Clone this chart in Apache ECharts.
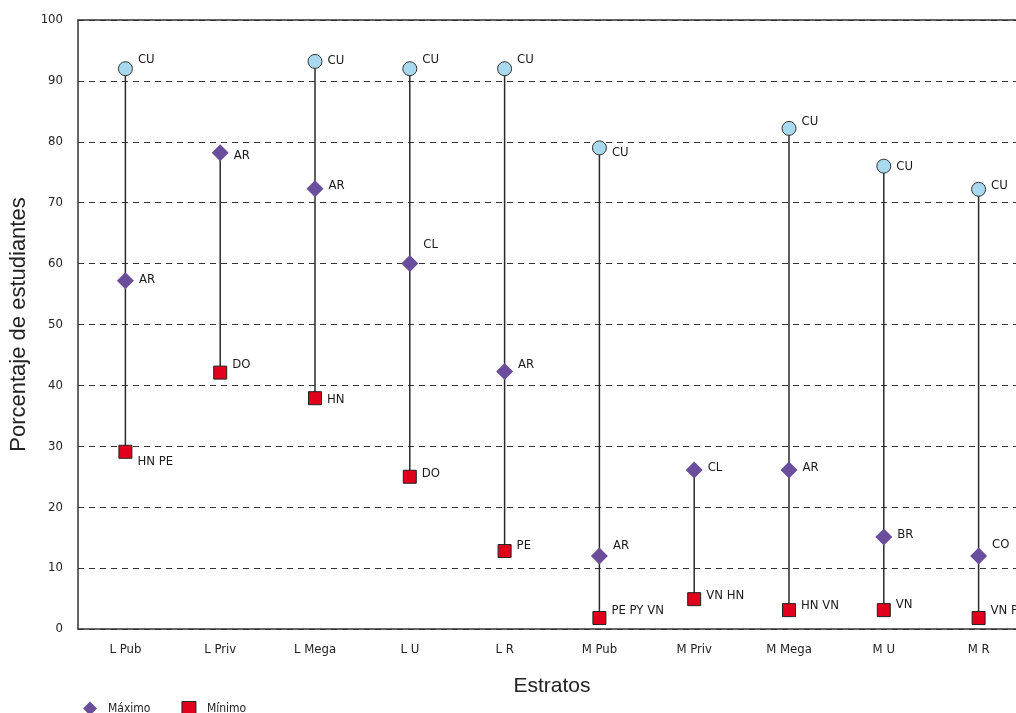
<!DOCTYPE html>
<html>
<head>
<meta charset="utf-8">
<script src="https://cdn.jsdelivr.net/npm/echarts@6/dist/echarts.min.js"></script>
<style>html,body{margin:0;padding:0;background:#fff}#c{width:1016px;height:713px}</style>
</head>
<body>
<div id="c"></div>
<script>
// ---- data ----
const categories = ['L Pub','L Priv','L Mega','L U','L R','M Pub','M Priv','M Mega','M U','M R'];
const cuValues   = [92, null, 93.2, 92, 92, 79, null, 82.2, 76, 72.2];
const cuLabels   = ['CU','', 'CU','CU','CU','CU','', 'CU','CU','CU'];
const maxValues  = [57.2, 78.2, 72.3, 60, 42.3, 12, 26.1, 26.1, 15.1, 12];
const maxLabels  = ['AR','AR','AR','CL','AR','AR','CL','AR','BR','CO'];
const minValues  = [29.1, 42.1, 37.9, 25, 12.8, 1.8, 4.9, 3.1, 3.1, 1.8];
const minLabels  = ['HN PE','DO','HN','DO','PE','PE PY VN','VN HN','HN VN','VN','VN PE'];
const yTicks     = [0,10,20,30,40,50,60,70,80,90,100];

// ---- style (label vertical shifts, px) ----
const cuDy  = [-9,0,-1,-9,-9,5,0,-7,0,-4];
const maxDy = [-1,3,-3,-19,-7,-10,-2,-2,-2,-11];
const minDy = [10,-8,1,-3,-5,-7,-4,-4,-5,-7];

const narrow = "'Liberation Sans Narrow','DejaVu Sans Condensed','Roboto Condensed',sans-serif";
const chart = echarts.init(document.getElementById('c'));

function pts(vals, labels, dys) {
  return vals.map((v, i) => v == null ? '-' : {
    value: v,
    name: labels[i],
    label: { offset: [0, dys[i]] }
  });
}

const rangeData = categories.map((c, i) => {
  const vs = [cuValues[i], maxValues[i], minValues[i]].filter(v => v != null);
  return [i, Math.min.apply(null, vs), Math.max.apply(null, vs)];
});

const labelCommon = {
  show: true, position: 'right', distance: 5,
  formatter: p => p.name, color: '#1a1a1a', fontSize: 13, fontFamily: narrow
};

chart.setOption({
  animation: false,
  grid: { left: 78, top: 20, width: 948, height: 609, outerBoundsMode: 'none', containLabel: false },
  legend: {
    data: [
      { name: 'Máximo', icon: 'diamond', itemStyle: { color: '#6a4e9c', borderWidth: 0 } },
      { name: 'Mínimo', icon: 'rect', itemStyle: { color: '#e0001b', borderColor: '#222', borderWidth: 1 } }
    ],
    left: 78, top: 696, itemWidth: 14, itemHeight: 14, itemGap: 31,
    textStyle: { fontFamily: narrow, fontSize: 12, color: '#222', padding: [0, 0, 0, 6] }
  },
  xAxis: [{
    type: 'category', data: categories,
    name: 'Estratos', nameLocation: 'middle', nameGap: 47,
    nameTextStyle: { fontSize: 21, color: '#222', fontFamily: "'Liberation Sans',Arial,sans-serif" },
    axisLine: { lineStyle: { color: '#333', width: 1.5 } },
    axisTick: { show: false },
    axisLabel: { margin: 14, fontSize: 13, color: '#222', fontFamily: narrow },
    splitLine: { show: false }
  }, {
    type: 'category', data: categories, position: 'top',
    axisLine: { show: true, lineStyle: { color: '#333', width: 1.5 } },
    axisTick: { show: false }, axisLabel: { show: false }
  }],
  yAxis: {
    type: 'value', min: 0, max: 100, interval: 10,
    name: 'Porcentaje de estudiantes', nameLocation: 'middle', nameGap: 48,
    nameTextStyle: { fontSize: 22, color: '#222', fontFamily: "'Liberation Sans',Arial,sans-serif" },
    axisLine: { show: true, lineStyle: { color: '#333', width: 1.5 } },
    axisTick: { show: false },
    axisLabel: { margin: 15, fontSize: 13, color: '#222', fontFamily: narrow,
      formatter: v => yTicks.indexOf(v) >= 0 ? String(v) : '' },
    splitLine: { show: true, lineStyle: { type: [6, 5], color: '#333', width: 1.2 } }
  },
  series: [{
    type: 'custom', name: 'range', silent: true, z: 1,
    data: rangeData,
    encode: { x: 0, y: [1, 2] },
    renderItem: (params, api) => {
      const a = api.coord([api.value(0), api.value(1)]);
      const b = api.coord([api.value(0), api.value(2)]);
      return { type: 'line', shape: { x1: a[0], y1: a[1], x2: b[0], y2: b[1] },
               style: { stroke: '#2a2a2a', lineWidth: 1.5 } };
    }
  }, {
    type: 'scatter', name: 'CU', z: 3,
    symbol: 'circle', symbolSize: 14,
    itemStyle: { color: '#a9d9ef', borderColor: '#333', borderWidth: 1, opacity: 1 },
    label: labelCommon,
    data: pts(cuValues, cuLabels, cuDy)
  }, {
    type: 'scatter', name: 'Máximo', z: 3,
    symbol: 'diamond', symbolSize: [17, 17],
    itemStyle: { color: '#6a4e9c', opacity: 1 },
    label: labelCommon,
    data: pts(maxValues, maxLabels, maxDy)
  }, {
    type: 'scatter', name: 'Mínimo', z: 3,
    symbol: 'rect', symbolSize: 13,
    itemStyle: { color: '#e0001b', borderColor: '#222', borderWidth: 1, opacity: 1 },
    label: labelCommon,
    data: pts(minValues, minLabels, minDy)
  }]
});
</script>
</body>
</html>
